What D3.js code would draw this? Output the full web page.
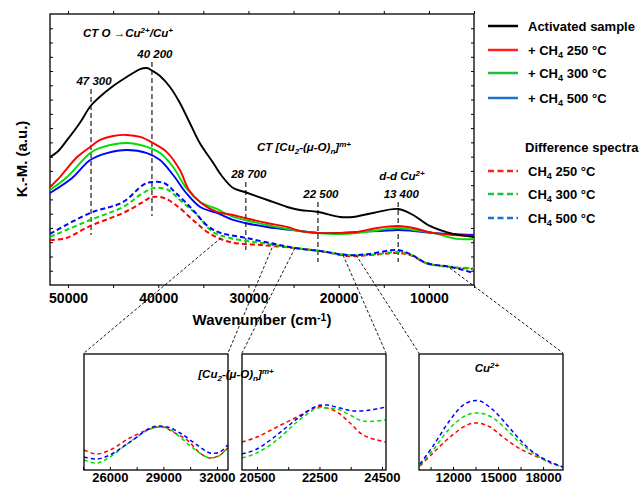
<!DOCTYPE html>
<html>
<head>
<meta charset="utf-8">
<script src="https://cdn.jsdelivr.net/npm/d3@7"></script>
<style>
  body { margin: 0; background: #fff; }
  svg { display: block; font-family: "Liberation Sans", Arial, sans-serif; }
</style>
</head>
<body>
<svg id="chart" width="642" height="486"></svg>
<script>
// spectra: [wavenumber (cm-1), K.-M. (a.u.)]
const activated = [[52000,0.897],[51200,0.932],[50100,1.017],[48700,1.136],[47500,1.255],[46500,1.318],[45000,1.395],[43500,1.458],[42000,1.514],[41250,1.521],[40600,1.500],[39800,1.465],[38700,1.388],[37600,1.276],[36500,1.136],[35400,0.996],[33900,0.855],[32950,0.764],[31700,0.680],[30400,0.652],[27900,0.596],[25700,0.547],[24300,0.526],[22300,0.512],[19850,0.477],[18400,0.477],[16200,0.505],[13400,0.533],[11750,0.491],[9900,0.414],[7300,0.358],[5000,0.337]]
const ch4_250 = [[52000,0.687],[50900,0.757],[49000,0.897],[47550,0.968],[46450,1.017],[45000,1.045],[43450,1.052],[42000,1.038],[40600,0.996],[39050,0.932],[37600,0.806],[36600,0.666],[35250,0.575],[33500,0.512],[31700,0.491],[30400,0.470],[27950,0.435],[25700,0.407],[24300,0.379],[22300,0.365],[19850,0.365],[17950,0.372],[15750,0.400],[13400,0.414],[11750,0.400],[9550,0.365],[7300,0.351],[5000,0.344]]
const ch4_300 = [[52000,0.666],[50100,0.757],[47550,0.925],[46450,0.961],[43450,0.996],[41250,0.968],[39800,0.925],[38350,0.827],[36900,0.680],[35350,0.582],[33500,0.533],[31700,0.477],[30400,0.456],[27950,0.421],[24300,0.379],[22300,0.365],[19850,0.358],[17950,0.365],[15400,0.386],[13400,0.400],[11750,0.386],[9550,0.365],[6900,0.323],[5000,0.323]]
const ch4_500 = [[52000,0.645],[49550,0.750],[47550,0.876],[45700,0.925],[43450,0.947],[41250,0.925],[39800,0.876],[38350,0.771],[36900,0.645],[35350,0.547],[33500,0.505],[31700,0.456],[30400,0.435],[27950,0.407],[24300,0.379],[22300,0.365],[19850,0.365],[17950,0.372],[15400,0.379],[13400,0.386],[11750,0.379],[9550,0.365],[5000,0.351]]

// difference spectra
const diff_250 = [[52000,0.316],[50200,0.330],[47550,0.414],[43900,0.505],[41700,0.582],[40700,0.617],[39350,0.610],[38050,0.561],[36150,0.456],[34400,0.365],[32050,0.301],[28500,0.280],[24850,0.259],[22050,0.238],[18950,0.203],[16650,0.210],[13400,0.224],[12100,0.210],[10300,0.154],[7550,0.126],[5000,0.112]]
const diff_300 = [[52000,0.337],[47550,0.456],[43900,0.547],[41700,0.645],[40450,0.680],[38900,0.666],[37600,0.596],[35700,0.491],[33950,0.372],[32050,0.330],[28500,0.294],[24850,0.259],[22050,0.238],[18950,0.210],[16650,0.210],[13200,0.231],[11650,0.203],[10300,0.154],[7550,0.126],[5000,0.119]]
const diff_500 = [[52000,0.358],[47550,0.505],[43900,0.582],[41700,0.701],[40700,0.722],[39350,0.715],[38050,0.645],[36150,0.526],[34400,0.407],[33050,0.365],[30300,0.330],[27050,0.287],[24850,0.259],[22050,0.238],[18950,0.210],[16650,0.217],[13400,0.245],[11650,0.203],[10300,0.154],[7550,0.126],[5000,0.084]]

// zoomed difference spectra (insets)
const zoomA_250 = [[24550,0.172],[25270,0.138],[26000,0.172],[27120,0.276],[28410,0.362],[28970,0.371],[29530,0.328],[30320,0.259],[31050,0.147],[31600,0.103],[32170,0.129],[32600,0.190]]
const zoomA_300 = [[24550,0.086],[25270,0.060],[26000,0.112],[27120,0.241],[28410,0.362],[29200,0.362],[29930,0.284],[30650,0.190],[31440,0.112],[32000,0.112],[32600,0.190]]
const zoomA_500 = [[24550,0.112],[25270,0.095],[26000,0.129],[27120,0.241],[28410,0.371],[29200,0.371],[29930,0.319],[30880,0.216],[31600,0.147],[32170,0.155],[32600,0.216]]
const zoomB_250 = [[20020,0.241],[20500,0.284],[21140,0.371],[21780,0.457],[22420,0.543],[22610,0.543],[23060,0.500],[23480,0.405],[23890,0.302],[24340,0.259],[24620,0.241]]
const zoomB_300 = [[20020,0.103],[20500,0.147],[21140,0.259],[21780,0.414],[22420,0.534],[22610,0.534],[23060,0.526],[23480,0.474],[23890,0.422],[24620,0.431]]
const zoomB_500 = [[20020,0.138],[20500,0.181],[21140,0.302],[21780,0.440],[22420,0.552],[22740,0.560],[23160,0.534],[23570,0.509],[24120,0.517],[24620,0.543]]
const zoomC_250 = [[9800,0.034],[10670,0.147],[11800,0.284],[12930,0.388],[13600,0.405],[14470,0.371],[15330,0.284],[16270,0.198],[17330,0.129],[18470,0.069],[19330,0.026]]
const zoomC_300 = [[9800,0.043],[10670,0.172],[11800,0.362],[12930,0.474],[13800,0.491],[14670,0.448],[15600,0.345],[16470,0.233],[17330,0.147],[18470,0.060],[19330,0.026]]
const zoomC_500 = [[9800,0.052],[10670,0.207],[11800,0.431],[12670,0.560],[13270,0.595],[13800,0.595],[14670,0.517],[15600,0.388],[16470,0.259],[17330,0.155],[18470,0.069],[19330,0.026]]

// peak markers
const peakPos = [47450, 40700, 30300, 22300, 13400]
const peakLabels = ["47 300", "40 200", "28 700", "22 500", "13 400"]
const peakTop = [1.374, 1.563, 0.722, 0.582, 0.582]
const peakBottom = [0.351, 0.484, 0.245, 0.161, 0.161]

// where the zoom connectors leave the main plot
const connectFrom = [[33050,0.330],[27170,0.294],[24850,0.259],[19520,0.210],[18080,0.210],[7660,0.119]]

const insetDomains = [[24550, 32620], [20020, 24630], [9730, 19330]]
const insetTicks = [[26000, 29000, 32000], [20500, 22500, 24500], [12000, 15000, 18000]]
const insetMinor = [[24500, 27500, 30500], [21500, 23500], [10500, 13500, 16500]]

const legendSolid = ["Activated sample", "+ CH|4| 250 °C", "+ CH|4| 300 °C", "+ CH|4| 500 °C"]
const legendDash = ["CH|4| 250 °C", "CH|4| 300 °C", "CH|4| 500 °C"]

const svg = d3.select("#chart")
const RED = "#ff0000", GREEN = "#00dd00", BLUE = "#0000ff"
const legendColors = ["#000", "#ff1f1f", "#1fbf3f", "#1f6fcf"]

const x = d3.scaleLinear().domain([52000, 5000]).range([50, 474])
const y = d3.scaleLinear().domain([0, 1.9]).range([285, 14])

// text with sub/superscripts: "|x|" = subscript, "^x^" = superscript
function richText(sel, str) {
  const parts = str.split(/(\|[^|]*\||\^[^^]*\^)/).filter((s) => s.length)
  let off = 0
  parts.forEach((p) => {
    let target = 0, txt = p, small = false
    if (p[0] === "|") { target = 3; txt = p.slice(1, -1); small = true }
    else if (p[0] === "^") { target = -4; txt = p.slice(1, -1); small = true }
    const t = sel.append("tspan").attr("dy", target - off).text(txt)
    if (small) t.attr("font-size", "0.7em")
    off = target
  })
  return sel
}

svg.append("clipPath").attr("id", "clipMain")
  .append("rect").attr("x", 50).attr("y", 14).attr("width", 424).attr("height", 271)

// axes
svg.append("g")
  .attr("transform", "translate(0,285)")
  .call(d3.axisBottom(x).tickValues(d3.range(5000, 50001, 5000)).tickSize(3).tickPadding(5)
    .tickFormat((d) => (d % 10000 === 0 ? d : "")))
  .call((g) => g.select(".domain").remove())
  .selectAll("text").attr("font-size", "14px").attr("font-weight", "bold").attr("font-family", "Liberation Sans, Arial, sans-serif")

svg.append("g")
  .attr("transform", "translate(0,14)")
  .call(d3.axisTop(x).tickValues(d3.range(5000, 50001, 5000)).tickSize(3).tickFormat(""))
  .call((g) => g.select(".domain").remove())

svg.append("g")
  .attr("transform", "translate(50,0)")
  .call(d3.axisLeft(y).tickValues(d3.range(1, 19).map((d) => d / 10)).tickSize(-3).tickFormat(""))
  .call((g) => g.select(".domain").remove())

svg.append("g")
  .attr("transform", "translate(474,0)")
  .call(d3.axisRight(y).tickValues(d3.range(1, 19).map((d) => d / 10)).tickSize(-3).tickFormat(""))
  .call((g) => g.select(".domain").remove())

svg.append("rect")
  .attr("x", 50).attr("y", 14).attr("width", 424).attr("height", 271)
  .attr("fill", "none").attr("stroke", "#000").attr("stroke-width", 1.3)

richText(svg.append("text").attr("x", 262).attr("y", 325).attr("text-anchor", "middle")
  .attr("font-size", "15px").attr("font-weight", "bold"), "Wavenumber (cm^-1^)")

svg.append("text")
  .attr("transform", "translate(27,159) rotate(-90)")
  .attr("text-anchor", "middle").attr("font-size", "15px").attr("font-weight", "bold")
  .text("K.-M. (a.u.)")

// peak markers
const peaks = svg.append("g")
peakPos.forEach((p, i) => {
  peaks.append("line")
    .attr("x1", x(p)).attr("x2", x(p))
    .attr("y1", y(peakTop[i])).attr("y2", y(peakBottom[i]))
    .attr("stroke", "#555").attr("stroke-width", 1.6).attr("stroke-dasharray", "5,3")
  peaks.append("text")
    .attr("x", x(p) + 3).attr("y", y(peakTop[i]) - 4)
    .attr("text-anchor", "middle").attr("font-size", "11.5px")
    .attr("font-weight", "bold").attr("font-style", "italic")
    .text(peakLabels[i])
})

function annot(px, py, str, anchor) {
  richText(svg.append("text").attr("x", px).attr("y", py).attr("text-anchor", anchor || "start")
    .attr("font-size", "11.5px").attr("font-weight", "bold").attr("font-style", "italic"), str)
}
annot(83, 37, "CT  O \u2192Cu^2+^/Cu^+^")
annot(257, 151, "CT [Cu|2|-(\u03bc-O)|n|]^m+^")
annot(402, 180, "d-d Cu^2+^", "middle")

// spectra
const line = d3.line().x((d) => x(d[0])).y((d) => y(d[1])).curve(d3.curveCatmullRom.alpha(0.5))
const plot = svg.append("g").attr("clip-path", "url(#clipMain)")

;[[diff_250, RED], [diff_300, GREEN], [diff_500, BLUE]].forEach(([data, c]) => {
  plot.append("path").attr("d", line(data)).attr("fill", "none")
    .attr("stroke", c).attr("stroke-width", 2).attr("stroke-dasharray", "5,3")
})
;[[ch4_500, BLUE], [ch4_300, GREEN], [ch4_250, RED], [activated, "#000"]].forEach(([data, c]) => {
  plot.append("path").attr("d", line(data)).attr("fill", "none")
    .attr("stroke", c).attr("stroke-width", 1.9)
})

// insets
const insetLeft = [84, 242, 419]
const insetRight = [228, 386, 563]
const insetTop = 354, insetBottom = 470
const insetData = [
  [zoomA_250, zoomA_300, zoomA_500],
  [zoomB_250, zoomB_300, zoomB_500],
  [zoomC_250, zoomC_300, zoomC_500],
]
const corners = []

insetData.forEach((series, i) => {
  const ix = d3.scaleLinear().domain(insetDomains[i]).range([insetLeft[i], insetRight[i]])
  const iy = d3.scaleLinear().domain([0, 1]).range([insetBottom, insetTop])
  const g = svg.append("g")
  g.append("clipPath").attr("id", "clipInset" + i)
    .append("rect").attr("x", insetLeft[i]).attr("y", insetTop)
    .attr("width", insetRight[i] - insetLeft[i]).attr("height", insetBottom - insetTop)

  g.append("g")
    .attr("transform", `translate(0,${insetBottom})`)
    .call(d3.axisBottom(ix).tickValues(insetTicks[i]).tickSize(-3).tickPadding(3).tickFormat(d3.format("d")))
    .call((a) => a.select(".domain").remove())
    .selectAll("text").attr("font-size", "13px").attr("font-weight", "bold").attr("font-family", "Liberation Sans, Arial, sans-serif")
  g.append("g")
    .attr("transform", `translate(0,${insetBottom})`)
    .call(d3.axisBottom(ix).tickValues(insetMinor[i]).tickSize(-3).tickFormat(""))
    .call((a) => a.select(".domain").remove())

  const il = d3.line().x((d) => ix(d[0])).y((d) => iy(d[1])).curve(d3.curveCatmullRom.alpha(0.5))
  const cg = g.append("g").attr("clip-path", `url(#clipInset${i})`)
  ;[RED, GREEN, BLUE].forEach((c, k) => {
    cg.append("path").attr("d", il(series[k])).attr("fill", "none")
      .attr("stroke", c).attr("stroke-width", 1.5).attr("stroke-dasharray", "4,3")
  })
  g.append("rect")
    .attr("x", insetLeft[i]).attr("y", insetTop)
    .attr("width", insetRight[i] - insetLeft[i]).attr("height", insetBottom - insetTop)
    .attr("fill", "none").attr("stroke", "#000").attr("stroke-width", 1.3)
  corners.push([insetLeft[i], insetTop - 1], [insetRight[i], insetTop - 1])
})

richText(svg.append("text").attr("x", 236).attr("y", 378).attr("text-anchor", "middle")
  .attr("font-size", "11.5px").attr("font-weight", "bold").attr("font-style", "italic"), "[Cu|2|-(\u03bc-O)|n|]^m+^")
richText(svg.append("text").attr("x", 487).attr("y", 372).attr("text-anchor", "middle")
  .attr("font-size", "11.5px").attr("font-weight", "bold").attr("font-style", "italic"), "Cu^2+^")

// connectors
connectFrom.forEach((p, i) => {
  svg.append("line")
    .attr("x1", x(p[0])).attr("y1", y(p[1]))
    .attr("x2", corners[i][0]).attr("y2", corners[i][1])
    .attr("stroke", "#000").attr("stroke-width", 0.9).attr("stroke-dasharray", "3,2")
})

// legend
const lg = svg.append("g")
legendSolid.forEach((t, i) => {
  const yy = [26, 50, 73, 98][i]
  lg.append("line").attr("x1", 488).attr("x2", 518).attr("y1", yy).attr("y2", yy)
    .attr("stroke", legendColors[i]).attr("stroke-width", 2.5)
  richText(lg.append("text").attr("x", 528).attr("y", yy + 5)
    .attr("font-size", "13px").attr("font-weight", "bold"), t)
})
lg.append("text").attr("x", 525).attr("y", 152)
  .attr("font-size", "13px").attr("font-weight", "bold").text("Difference spectra")
legendDash.forEach((t, i) => {
  const yy = [171, 194, 218][i]
  lg.append("line").attr("x1", 488).attr("x2", 518).attr("y1", yy).attr("y2", yy)
    .attr("stroke", legendColors[i + 1]).attr("stroke-width", 2.5).attr("stroke-dasharray", "6,3.5")
  richText(lg.append("text").attr("x", 528).attr("y", yy + 5)
    .attr("font-size", "13px").attr("font-weight", "bold"), t)
})
</script>
</body>
</html>
